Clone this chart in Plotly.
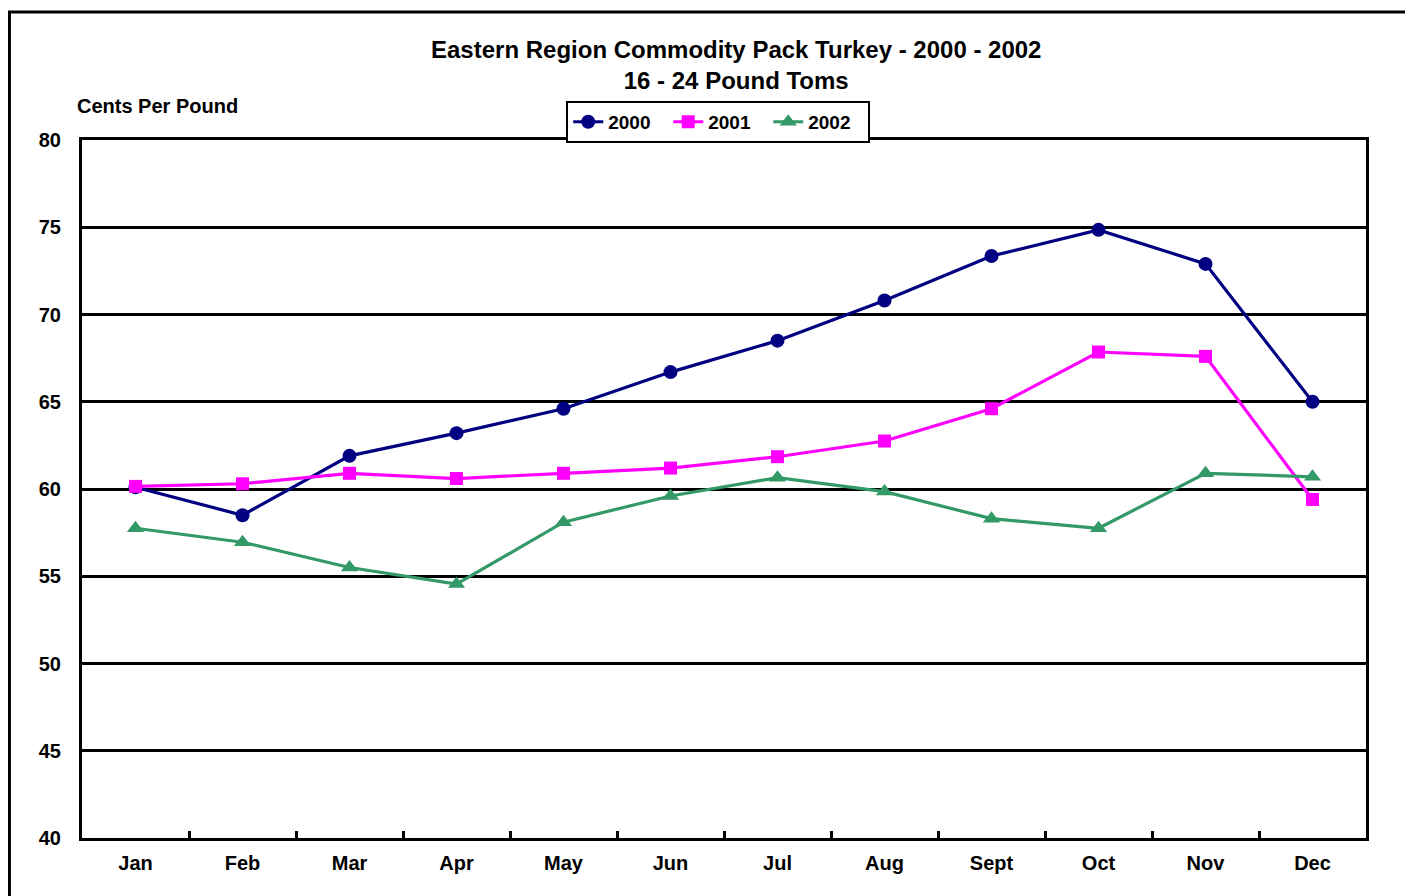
import plotly.graph_objects as go

months = ["Jan", "Feb", "Mar", "Apr", "May", "Jun", "Jul", "Aug", "Sept", "Oct", "Nov", "Dec"]
y2000 = [60.1, 58.5, 61.9, 63.2, 64.6, 66.7, 68.5, 70.8, 73.35, 74.85, 72.9, 65.0]
y2001 = [60.15, 60.3, 60.9, 60.6, 60.9, 61.2, 61.85, 62.75, 64.6, 67.85, 67.6, 59.4]
y2002 = [57.75, 56.95, 55.5, 54.55, 58.1, 59.6, 60.65, 59.85, 58.3, 57.75, 60.9, 60.7]
yticks = [40, 45, 50, 55, 60, 65, 70, 75, 80]

FONT = "Liberation Sans, Arial, sans-serif"

fig = go.Figure()
fig.add_trace(go.Scatter(
    x=months, y=y2000, name="2000", mode="lines+markers",
    line=dict(color="#000080", width=3.2),
    marker=dict(symbol="circle", size=14, color="#000080"),
))
fig.add_trace(go.Scatter(
    x=months, y=y2001, name="2001", mode="lines+markers",
    line=dict(color="#ff00ff", width=3.2),
    marker=dict(symbol="square", size=13, color="#ff00ff"),
))
fig.add_trace(go.Scatter(
    x=months, y=y2002, name="2002", mode="lines+markers",
    line=dict(color="#339966", width=3.2),
    marker=dict(symbol="triangle-up", size=15, color="#339966"),
))

# the page body has an 8px margin, so the figure is drawn 8px smaller
fig.update_layout(
    width=1405, height=888,
    paper_bgcolor="#ffffff",
    plot_bgcolor="#ffffff",
    margin=dict(l=74, r=47, t=132, b=58),
    font=dict(family=FONT, color="#000000", size=20, weight="bold"),
    showlegend=True,
    legend=dict(
        orientation="h",
        xanchor="center", x=0.4955,
        yanchor="top", y=1.056,
        bordercolor="#000000", borderwidth=2,
        bgcolor="#ffffff",
        font=dict(size=19, weight="bold"),
        entrywidth=55, entrywidthmode="pixels",
        tracegroupgap=0,
    ),
)

fig.update_xaxes(
    type="category",
    range=[-0.5, 11.5],
    showline=True, mirror=True, linecolor="#000000", linewidth=3,
    showgrid=False, zeroline=False,
    tickson="boundaries", ticks="inside", ticklen=7, tickwidth=3, tickcolor="#000000",
    ticklabelstandoff=5,
    tickfont=dict(family=FONT, size=20, weight="bold"),
)
fig.update_yaxes(
    range=[40, 80],
    tickvals=yticks,
    showline=True, mirror=True, linecolor="#000000", linewidth=3,
    showgrid=True, gridcolor="#000000", gridwidth=3,
    zeroline=False,
    ticks="", ticklabelstandoff=14,
    tickfont=dict(family=FONT, size=20, weight="bold"),
)

fig.add_annotation(
    text="Eastern Region Commodity Pack Turkey - 2000 - 2002<br>16 - 24 Pound Toms",
    xref="paper", yref="paper", x=0.509, y=1.107,
    xanchor="center", yanchor="middle", showarrow=False,
    font=dict(family=FONT, size=24, weight="bold"),
)
fig.add_annotation(
    text="Cents Per Pound",
    xref="paper", yref="paper", x=-0.0055, y=1.048,
    xanchor="left", yanchor="middle", showarrow=False,
    font=dict(family=FONT, size=20, weight="bold"),
)

# outer frame around the whole chart
fig.add_shape(
    type="rect", xref="paper", yref="paper",
    x0=-0.0565, x1=1.2, y0=-0.2, y1=1.1835,
    line=dict(color="#000000", width=3),
    layer="below",
)

fig.write_html("out.html")
